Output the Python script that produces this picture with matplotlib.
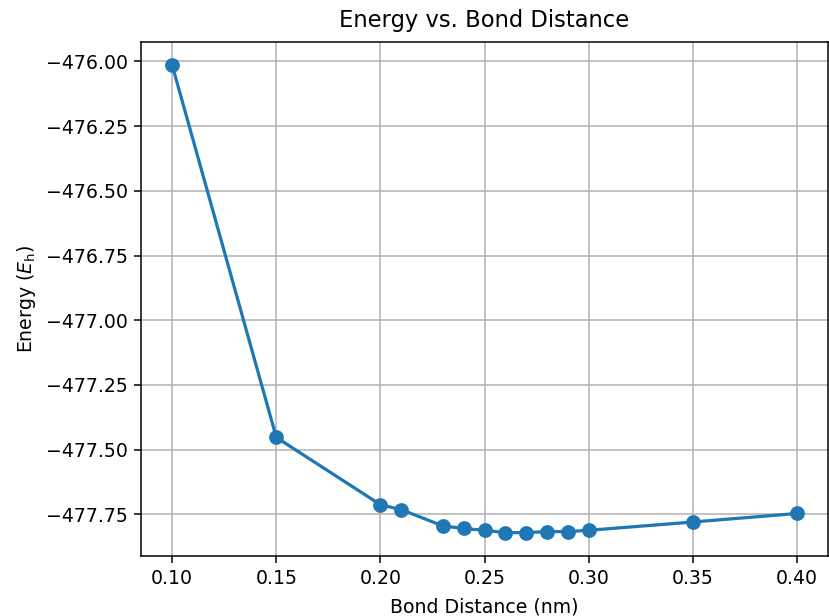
import matplotlib
matplotlib.use("Agg")
import matplotlib.pyplot as plt

# Bond distance (nm) and total energy (Hartree)
distances = [0.10, 0.15, 0.20, 0.21, 0.23, 0.24, 0.25, 0.26, 0.27, 0.28, 0.29, 0.30, 0.35, 0.40]
energies = [-476.015, -477.453, -477.713, -477.732, -477.795, -477.805, -477.812,
            -477.821, -477.821, -477.817, -477.817, -477.812, -477.780, -477.747]

DPI = 136
fig = plt.figure(figsize=(829 / DPI, 616 / DPI), dpi=DPI)
ax = fig.add_axes([141 / 829, 1 - 556 / 616, (828 - 141) / 829, (556 - 42) / 616])

ax.plot(distances, energies, marker='o', markersize=6.8, linewidth=1.7)
ax.set_title("Energy vs. Bond Distance", pad=8)
ax.set_xlabel("Bond Distance (nm)", labelpad=5)
ax.set_ylabel(r"Energy ($E_\mathrm{h}$)")
ax.grid(True)

fig.savefig("out.png", dpi=DPI)
